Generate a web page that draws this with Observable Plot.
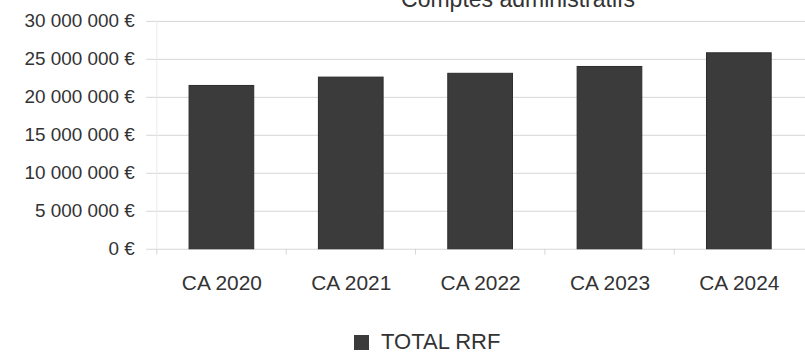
<!DOCTYPE html>
<html>
<head>
<meta charset="utf-8">
<script src="https://cdn.jsdelivr.net/npm/d3@7"></script>
<script src="https://cdn.jsdelivr.net/npm/@observablehq/plot@0.6"></script>
<style>
  html, body { margin: 0; padding: 0; background: #fff; }
  body { width: 805px; height: 354px; overflow: hidden; position: relative;
         font-family: "Liberation Sans", Arial, sans-serif; color: #333; }
  #title { position: absolute; top: -12px; left: 318px; width: 400px; text-align: center;
           font-size: 23px; line-height: 23px; color: #333; }
  #chart { position: absolute; top: 0; left: 0; }
  #legend { position: absolute; left: 354px; top: 331px; display: flex; align-items: center;
            font-size: 22px; line-height: 22px; color: #333; }
  #legend .sw { width: 15px; height: 15px; background: #3b3b3b; margin-right: 12px; }
</style>
</head>
<body>
<div id="title">Comptes administratifs</div>
<div id="chart"></div>
<div id="legend"><span class="sw"></span><span id="legend-label"></span></div>
<script>
// Recettes réelles de fonctionnement par compte administratif
const categories = ["CA 2020", "CA 2021", "CA 2022", "CA 2023", "CA 2024"];
const totalRRF = [21500000, 22600000, 23100000, 24000000, 25800000];
const yTicks = [0, 5000000, 10000000, 15000000, 20000000, 25000000, 30000000];
const seriesName = "TOTAL RRF";

const data = categories.map((c, i) => ({category: c, value: totalRRF[i]}));

const width = 809, height = 300;
const marginLeft = 155, marginRight = 0, marginTop = 21, marginBottom = 50;
const step = (width - marginLeft - marginRight) / categories.length;

const euro = d => d3.format(",")(d).replace(/,/g, " ") + " €";

const plot = Plot.plot({
  width, height, marginLeft, marginRight, marginTop, marginBottom,
  style: {fontFamily: "Liberation Sans, Arial, sans-serif", color: "#333", background: "transparent"},
  x: {type: "band", domain: categories, paddingInner: 0.5, paddingOuter: 0.25, axis: null, label: null},
  y: {domain: [0, 30000000], axis: null, label: null},
  marks: [
    Plot.gridY(yTicks, {stroke: "#d6d6d6", strokeOpacity: 1, insetLeft: -8}),
    // faint value-axis line on the left edge of the plot
    Plot.ruleX([categories[0]], {x: d => d, dx: -step / 2, y1: 0, y2: 30000000, stroke: "#ececec"}),
    // category separators under the baseline
    Plot.ruleX(categories, {x: d => d, dx: -step / 2, y1: 0, y2: 0, insetBottom: -6, stroke: "#d6d6d6"}),
    Plot.barY(data, {x: "category", y: "value", fill: "#3b3b3b", stroke: "#2b2b2b", strokeWidth: 1}),
    Plot.axisY(yTicks, {tickSize: 0, tickPadding: 20, tickFormat: euro, fontSize: 19, fill: "#333", label: null}),
    Plot.axisX(categories, {tickSize: 0, tickPadding: 26, fontSize: 21, fill: "#333", label: null})
  ]
});
document.getElementById("chart").appendChild(plot);
document.getElementById("legend-label").textContent = seriesName;
</script>
</body>
</html>
